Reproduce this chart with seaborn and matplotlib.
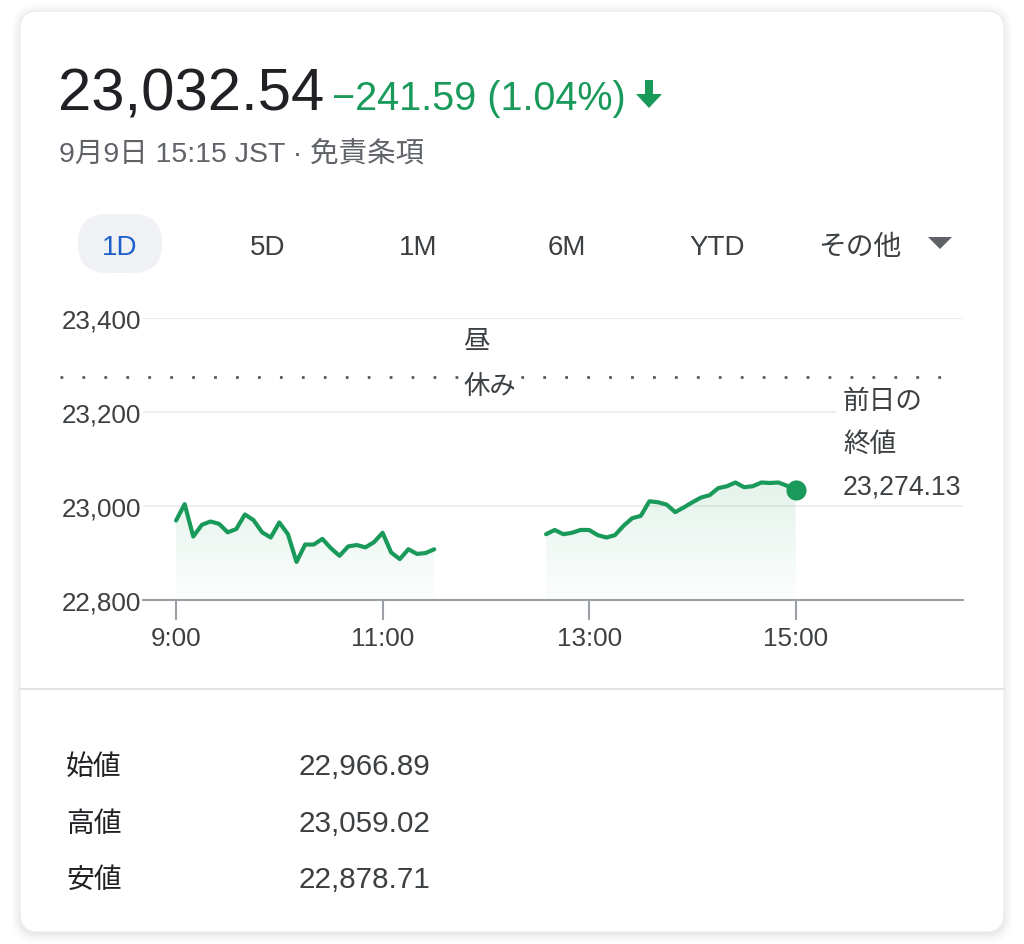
import numpy as np
import pandas as pd
import matplotlib
matplotlib.use("Agg")
import matplotlib.pyplot as plt
import seaborn as sns
from matplotlib.patches import FancyBboxPatch, Polygon, Rectangle
from matplotlib.transforms import blended_transform_factory

# --- データ ---
morning_prices = [22969, 23004, 22935, 22960, 22967, 22962, 22944, 22951, 22982, 22970,
                  22944, 22933, 22965, 22940, 22881, 22918, 22918, 22930, 22910, 22894,
                  22914, 22917, 22912, 22923, 22943, 22901, 22887, 22908, 22898, 22900,
                  22908]
afternoon_prices = [22940, 22949, 22940, 22943, 22949, 22949, 22938, 22933, 22938, 22958,
                    22974, 22979, 23010, 23008, 23003, 22987, 22997, 23008, 23018, 23023,
                    23038, 23042, 23050, 23040, 23042, 23050, 23049, 23050, 23043, 23033]
morning_start = 9.0            # 9:00
afternoon_start = 12 + 35 / 60  # 12:35
step = 5 / 60                  # 5分足

prev_close = 23274.13
yticks = [22800, 23000, 23200, 23400]
xticks = [9, 11, 13, 15]
xtick_labels = ["9:00", "11:00", "13:00", "15:00"]
tabs = ["1D", "5D", "1M", "6M", "YTD", "その他"]
stat_names = ["始値", "高値", "安値"]
stat_values = ["22,966.89", "23,059.02", "22,878.71"]

GREEN = "#1a9a5a"
GRAY = "#3c4043"

df = pd.concat([
    pd.DataFrame({"hour": morning_start + np.arange(len(morning_prices)) * step,
                  "price": morning_prices, "session": "am"}),
    pd.DataFrame({"hour": afternoon_start + np.arange(len(afternoon_prices)) * step,
                  "price": afternoon_prices, "session": "pm"}),
])

sns.set_theme(style="white")
plt.rcParams["font.family"] = ["Liberation Sans", "Noto Sans CJK JP", "DejaVu Sans"]

fig = plt.figure(figsize=(10.24, 9.45), dpi=100)
fig.patch.set_facecolor("white")

# 背景 (ピクセル座標)
bg = fig.add_axes([0, 0, 1, 1])
bg.set_xlim(0, 1024)
bg.set_ylim(945, 0)
bg.axis("off")
bg.set_zorder(0)

for i, a in enumerate([0.012, 0.012, 0.015, 0.02, 0.025]):
    p = 9 - i * 2
    bg.add_patch(FancyBboxPatch((20 - p, 14 - p), 984 + 2 * p, 921 + 2 * p,
                                boxstyle=f"round,pad=0,rounding_size={18 + p}",
                                facecolor="black", edgecolor="none", alpha=a))
bg.add_patch(FancyBboxPatch((20, 12), 984, 921, boxstyle="round,pad=0,rounding_size=18",
                            facecolor="white", edgecolor="#ececec", linewidth=0.8))

# ヘッダー
bg.text(58, 110, "23,032.54", fontsize=43, color="#202124", va="baseline")
bg.text(332, 110, "−241.59 (1.04%)", fontsize=28.5, color=GREEN, va="baseline")
bg.add_patch(Polygon([(645, 81), (653, 81), (653, 95), (662, 95), (649, 109),
                      (636, 95), (645, 95)], closed=True, facecolor=GREEN, edgecolor="none"))
bg.text(59, 162, "9月9日 15:15 JST · 免責条項", fontsize=20.5, color="#5f6368", va="baseline")

# タブ
bg.add_patch(FancyBboxPatch((78, 215), 84, 59, boxstyle="round,pad=0,rounding_size=29",
                            facecolor="#eff1f4", edgecolor="none"))
for label, cx in zip(tabs, [120, 268, 418, 567, 717, 860]):
    color = "#1f5fcc" if label == "1D" else GRAY
    if label == "その他":
        bg.text(cx, 248, label, fontsize=20, color=GRAY, ha="center", va="center")
    else:
        bg.text(cx, 255, label, fontsize=20, color=color, ha="center", va="baseline")
bg.add_patch(Polygon([(928, 238), (952, 238), (940, 250)], closed=True,
                     facecolor="#5f6368", edgecolor="none"))

# 区切り線と統計表
bg.plot([20, 1004], [690, 690], color="#e3e3e3", linewidth=1.5)
for name, val, yb in zip(stat_names, stat_values, [775, 832, 888]):
    bg.text(66, yb, name, fontsize=20, color="#202124", va="baseline")
    bg.text(299, yb, val, fontsize=21.3, color=GRAY, va="baseline")

# --- メインチャート ---
ax = fig.add_axes([143 / 1024, 1 - 601 / 945, 820 / 1024, 282 / 945])
ax.set_zorder(1)
ax.patch.set_alpha(0)

# グラデーション塗り
grad = np.zeros((256, 1, 4))
grad[:, 0, 0:3] = matplotlib.colors.to_rgb(GREEN)
grad[:, 0, 3] = np.linspace(0.015, 0.12, 256)
for _, g in df.groupby("session"):
    poly = ax.fill_between(g["hour"], g["price"], 22800, facecolor="none", edgecolor="none")
    img = ax.imshow(grad, extent=[8.9, 15.1, 22800, 23055], aspect="auto",
                    origin="lower", zorder=1)
    img.set_clip_path(poly.get_paths()[0], ax.transData)

sns.lineplot(data=df, x="hour", y="price", units="session", estimator=None,
             color=GREEN, linewidth=3.0, ax=ax, legend=False, zorder=3)
last = df.iloc[-1]
ax.scatter([last["hour"]], [last["price"]], s=210, color=GREEN, zorder=4, linewidths=0)

# 前日終値の点線
mixed = blended_transform_factory(bg.transData, ax.transData)
ax.plot([60, 955], [prev_close, prev_close], transform=mixed, clip_on=False,
        color="#5a5a5a", linewidth=2.0, linestyle=(0, (1, 6.9)), zorder=2)

# 注記
ax.text(463, 342, "昼", transform=bg.transData, fontsize=19, color=GRAY,
        va="center", clip_on=False, zorder=5)
ax.text(463, 387, "休み", transform=bg.transData, fontsize=19, color=GRAY,
        va="center", clip_on=False, zorder=5,
        bbox=dict(facecolor="white", edgecolor="none", pad=3))
ax.add_patch(Rectangle((836, 386), 132, 80, transform=bg.transData, facecolor="white",
                       edgecolor="none", zorder=4, clip_on=False))
for txt, yc in zip(["前日の", "終値", "23,274.13"], [402, 445, 487]):
    ax.text(843, yc, txt, transform=bg.transData, fontsize=19.2, color=GRAY,
            va="center", clip_on=False, zorder=5)

ax.set_xlim(8.68, 16.62)
ax.set_ylim(22800, 23400)
ax.set_yticks(yticks)
ax.set_yticklabels([f"{v:,}" for v in yticks])
ax.set_xticks(xticks)
ax.set_xticklabels(xtick_labels)
ax.set_xlabel("")
ax.set_ylabel("")
ax.grid(axis="y", color="#ededed", linewidth=1.3)
ax.set_axisbelow(True)
for s in ["left", "top", "right"]:
    ax.spines[s].set_visible(False)
ax.spines["bottom"].set_color("#9aa0a6")
ax.spines["bottom"].set_linewidth(1.5)
ax.tick_params(axis="y", length=0, pad=1, labelsize=18.7, labelcolor=GRAY)
ax.tick_params(axis="x", length=14.5, width=1.5, color="#9aa0a6", pad=4,
               labelsize=18.7, labelcolor=GRAY, bottom=True)

fig.savefig("out.png", dpi=100, facecolor="white")
